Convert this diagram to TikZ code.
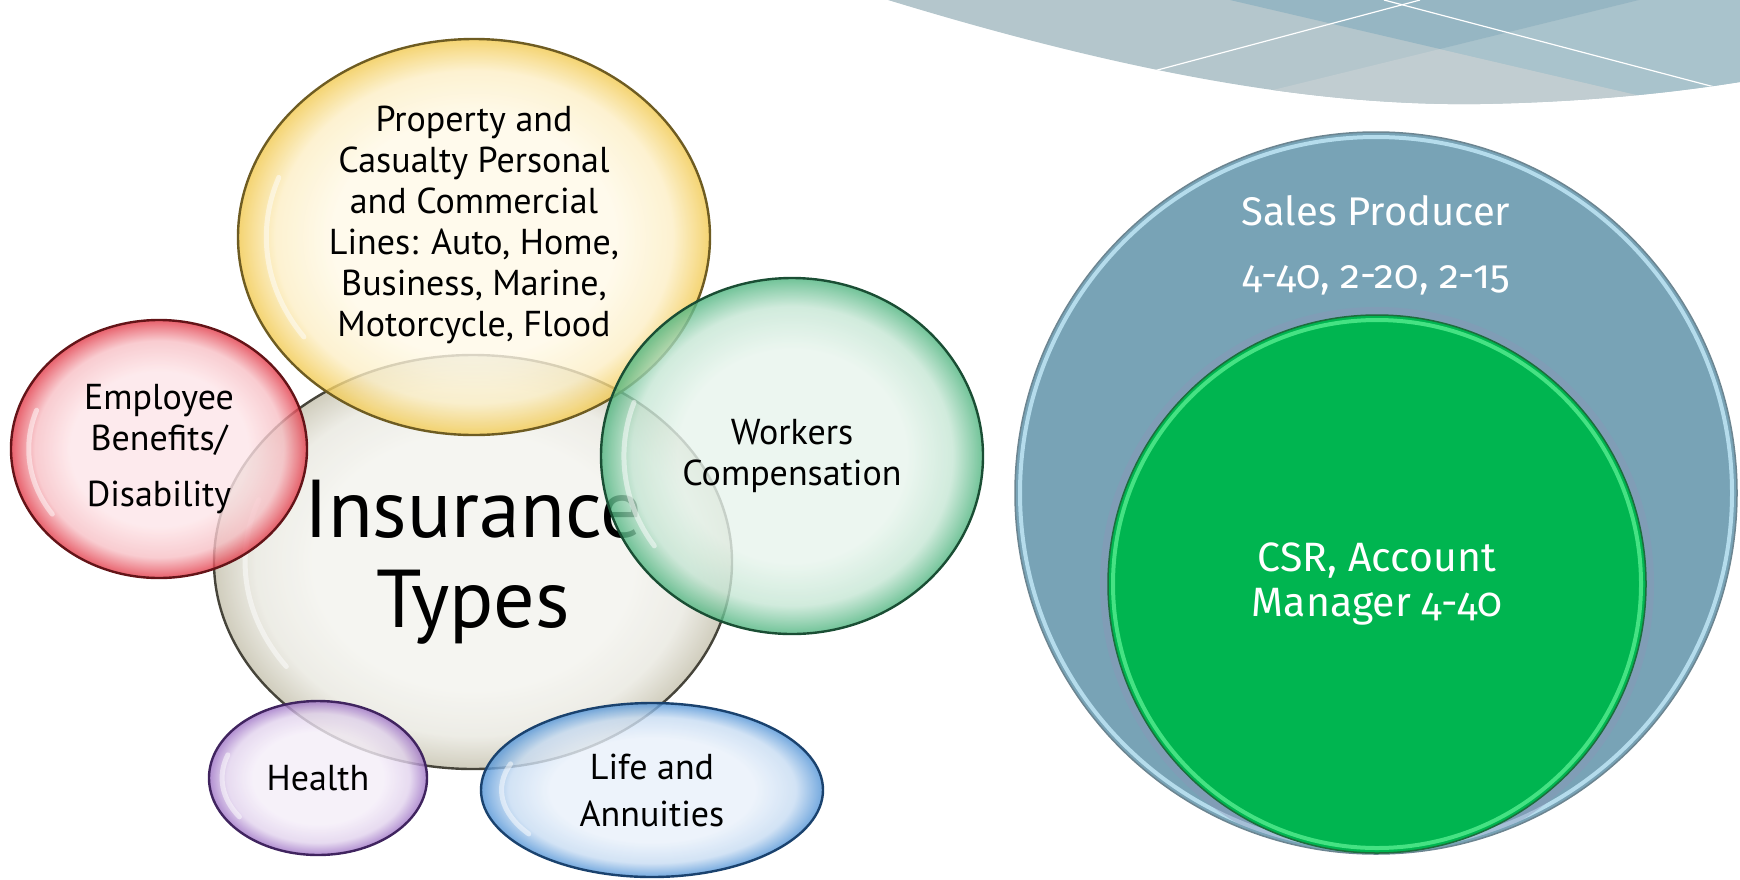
\documentclass[tikz,border=0pt]{standalone}
\usepackage{fontspec}
\setmainfont{PT Sans}
\newfontfamily\csrfont[Numbers=OldStyle]{Fira Sans}
\usetikzlibrary{shapes.geometric,positioning}

\definecolor{typesin}{HTML}{F3F3EE}
\definecolor{typesout}{HTML}{C4C0AC}
\definecolor{typesline}{HTML}{46443A}
\definecolor{propin}{HTML}{FFF9E7}
\definecolor{propout}{HTML}{F2C94E}
\definecolor{propline}{HTML}{6E5C22}
\definecolor{empin}{HTML}{FDE5E8}
\definecolor{empout}{HTML}{E23846}
\definecolor{empline}{HTML}{641418}
\definecolor{workin}{HTML}{E7F4EC}
\definecolor{workout}{HTML}{4DB47E}
\definecolor{workline}{HTML}{1A4E34}
\definecolor{healthin}{HTML}{F4EDF8}
\definecolor{healthout}{HTML}{9C70C4}
\definecolor{healthline}{HTML}{40245F}
\definecolor{lifein}{HTML}{E8F0FA}
\definecolor{lifeout}{HTML}{4F92D6}
\definecolor{lifeline}{HTML}{1A426E}
\definecolor{salesfill}{HTML}{78A3B6}
\definecolor{salesrim}{HTML}{B5DCEC}
\definecolor{salesedge}{HTML}{6C8591}
\definecolor{salesglow}{HTML}{8E94B8}
\definecolor{csrfill}{HTML}{00B550}
\definecolor{csrrim}{HTML}{45E283}
\definecolor{csredge}{HTML}{1C6E3C}
\definecolor{swbase}{HTML}{B4C6CC}
\definecolor{swtop}{HTML}{96B6C3}
\definecolor{swright}{HTML}{A9C3CC}
\definecolor{swlow}{HTML}{C1CDD1}

\colorlet{bubin}{white}
\colorlet{bubout}{gray}
\pgfdeclareradialshading[bubin,bubout]{bubble}{\pgfpoint{0bp}{0bp}}{%
  color(0bp)=(bubin); color(15bp)=(bubin); color(21bp)=(bubout!22!bubin);
  color(23.5bp)=(bubout!70!bubin); color(25bp)=(bubout); color(50bp)=(bubout)}

\tikzset{
  bubble/.style n args={3}{ellipse, draw=#3, line width=2.4pt, inner sep=0pt,
    /utils/exec={\colorlet{bubin}{#1}\colorlet{bubout}{#2}}, shading=bubble,
    fill opacity=.8, text opacity=1, align=center,
    font=\fontsize{36}{41}\selectfont},
  gloss/.style={white, opacity=.5, line width=5pt, line cap=round},
  whitetext/.style={text=white, align=center, font=\csrfont\fontsize{40}{45}\selectfont},
}

% white highlight inside the left rim of a bubble
\newcommand\bubgloss[3]{%
  \draw[gloss] (#1.center) ++(145:{#2*.88} and {#3*.88})
    arc[start angle=145, end angle=200, x radius={#2*.88}, y radius={#3*.88}];}

\begin{document}
\begin{tikzpicture}[x=1pt,y=-1pt]
\useasboundingbox (0,0) rectangle (1740,879);

% swoosh in the top right corner
\begin{scope}
    \clip (888,0) .. controls (1150,80) and (1330,106) .. (1480,104)
        .. controls (1600,102) and (1690,90) .. (1740,82) -- (1740,0) -- cycle;
    \fill[swbase] (880,0) rectangle (1740,130);
    \fill[swlow] (1000,157) -- (1440,49) -- (1740,119) -- (1740,140) -- (1000,140) -- cycle;
    \fill[swright] (1639,0) -- (1440,49) -- (1740,119) -- (1740,0) -- cycle;
    \fill[swtop] (1230,0) -- (1440,49) -- (1639,0) -- cycle;
    \draw[white, line width=1.2pt] (1120,80) -- (1420,0);
    \draw[white, line width=1.2pt] (1384,0) -- (1760,99);
\end{scope}

% insurance types
\node[bubble={typesin}{typesout}{typesline}, minimum width=518pt, minimum height=414pt,
    font=\fontsize{82}{90}\selectfont] (types) at (473,562) {Insurance\\Types};
\bubgloss{types}{259}{207}
\node[bubble={empin}{empout}{empline}, minimum width=296pt, minimum height=258pt]
    (benefits) at (159,449) {Employee\\Benefits/\\[15pt]Disability};
\bubgloss{benefits}{148}{129}
\node[bubble={propin}{propout}{propline}, minimum width=472pt, minimum height=396pt]
    (property) at (474,237) {};
\bubgloss{property}{236}{198}
\node[align=center, font=\fontsize{36}{41}\selectfont] (propertytext)
    at ([yshift=12pt]property.center)
    {Property and\\Casualty Personal\\and Commercial\\Lines: Auto, Home,\\Business, Marine,\\Motorcycle, Flood};
\node[bubble={workin}{workout}{workline}, minimum width=382pt, minimum height=356pt]
    (workers) at (792,456) {Workers\\Compensation};
\bubgloss{workers}{191}{178}
\node[bubble={healthin}{healthout}{healthline}, minimum width=218pt, minimum height=154pt]
    (health) at (318,778) {Health};
\bubgloss{health}{109}{77}
\node[bubble={lifein}{lifeout}{lifeline}, minimum width=342pt, minimum height=174pt,
    font=\fontsize{36}{47}\selectfont] (life) at (652,790) {Life and\\Annuities};
\bubgloss{life}{171}{87}

% roles
\node[circle, fill=salesfill, draw=salesedge, line width=1.5pt, minimum size=722pt]
    (sales) at (1376,493) {};
\draw[salesrim, line width=4pt] (sales.center) circle[radius=356pt];
\node[whitetext] (salestext) at ([yshift=-114pt]sales.north)
    {Sales Producer\\[18pt]4-40, 2-20, 2-15};
\begin{scope}
    \clip (sales.center) circle[radius=358pt];
    \draw[salesglow, opacity=.4, line width=8pt] (1377,584) circle[radius=273pt];
\end{scope}
\node[circle, fill=csrfill, draw=csredge, line width=1.5pt, minimum size=538pt,
    whitetext, font=\csrfont\fontsize{41}{45}\selectfont]
    (csr) at (1377,584) {CSR, Account\\Manager 4-40};
\draw[csrrim, line width=4pt] (csr.center) circle[radius=264pt];
\end{tikzpicture}
\end{document}
